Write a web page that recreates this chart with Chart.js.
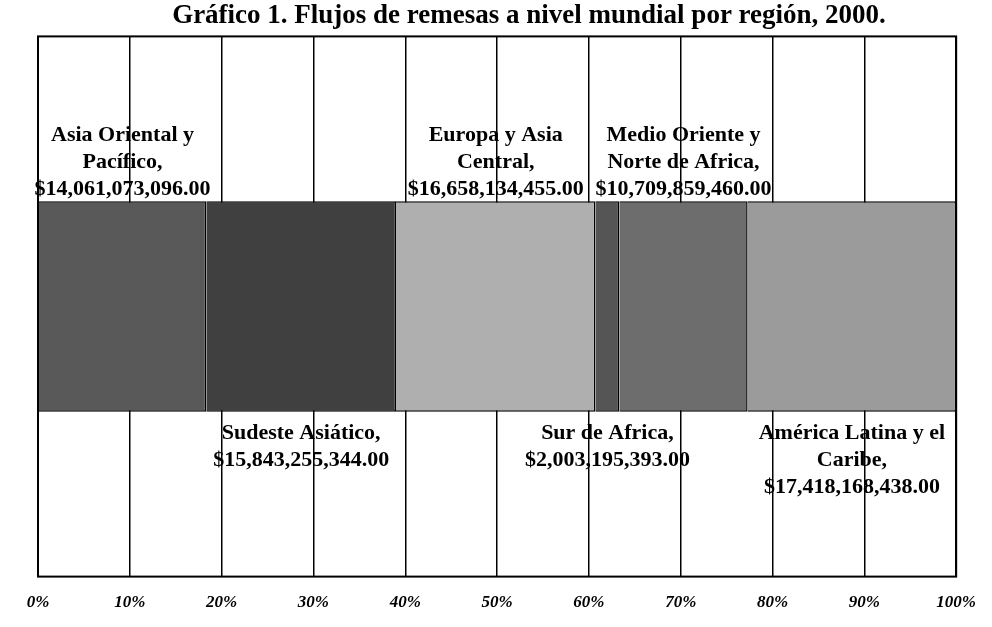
<!DOCTYPE html>
<html>
<head>
<meta charset="utf-8">
<script src="https://cdn.jsdelivr.net/npm/chart.js@4"></script>
<style>
  body { margin: 0; background: #fff; }
  #wrap { width: 992px; height: 627px; }
</style>
</head>
<body>
<div id="wrap"><canvas id="remesas"></canvas></div>
<script>
// datos del grafico
const regiones = [
  ['Asia Oriental y', 'Pacífico,'],
  ['Sudeste Asiático,'],
  ['Europa y Asia', 'Central,'],
  ['Sur de Africa,'],
  ['Medio Oriente y', 'Norte de Africa,'],
  ['América Latina y el', 'Caribe,']
];
const montos = [14061073096, 15843255344, 16658134455, 2003195393, 10709859460, 17418168438];
const posiciones = ['arriba', 'abajo', 'arriba', 'abajo', 'arriba', 'abajo'];
const colores = ['#595959', '#404040', '#afafaf', '#555555', '#6d6d6d', '#9b9b9b'];
const marcas = [0, 10, 20, 30, 40, 50, 60, 70, 80, 90, 100];

const total = montos.reduce((a, b) => a + b, 0);
const fuente = '"Liberation Serif", "Times New Roman", serif';

function dinero(v) {
  return '$' + v.toLocaleString('en-US', { minimumFractionDigits: 2, maximumFractionDigits: 2 });
}

// etiquetas arriba / abajo de cada segmento
const etiquetas = {
  id: 'etiquetas',
  afterDatasetsDraw(chart) {
    const ctx = chart.ctx;
    ctx.save();
    ctx.font = 'bold 22px ' + fuente;
    ctx.fillStyle = '#000';
    ctx.textAlign = 'center';
    const alto = 27;
    chart.data.datasets.forEach((ds, i) => {
      const bar = chart.getDatasetMeta(i).data[0];
      const cx = (bar.x + bar.base) / 2;
      const lineas = regiones[i].concat([dinero(montos[i])]);
      const top = bar.y - bar.height / 2;
      const bottom = bar.y + bar.height / 2;
      if (posiciones[i] === 'arriba') {
        ctx.textBaseline = 'alphabetic';
        lineas.slice().reverse().forEach((t, k) => {
          ctx.fillText(t, cx, top - 6 - k * alto);
        });
      } else {
        ctx.textBaseline = 'top';
        lineas.forEach((t, k) => {
          ctx.fillText(t, cx, bottom + 10 + k * alto);
        });
      }
    });
    ctx.restore();
  }
};

// marco del area de trazado
const marco = {
  id: 'marco',
  afterDraw(chart) {
    const a = chart.chartArea;
    const ctx = chart.ctx;
    ctx.save();
    ctx.strokeStyle = '#000';
    ctx.lineWidth = 2;
    ctx.strokeRect(a.left, a.top, a.right - a.left, a.bottom - a.top);
    ctx.restore();
  }
};

new Chart(document.getElementById('remesas'), {
  type: 'bar',
  data: {
    labels: ['2000'],
    datasets: montos.map((m, i) => ({
      label: regiones[i].join(' '),
      data: [m / total * 100],
      backgroundColor: colores[i],
      borderColor: '#000',
      borderWidth: 1.5,
      barPercentage: 0.39,
      categoryPercentage: 1
    }))
  },
  options: {
    indexAxis: 'y',
    responsive: true,
    maintainAspectRatio: false,
    animation: false,
    layout: { padding: { left: 38, right: -28, top: 0, bottom: -2 } },
    plugins: {
      legend: { display: false },
      tooltip: { enabled: false },
      title: {
        display: true,
        text: 'Gráfico 1. Flujos de remesas a nivel mundial por región, 2000.',
        color: '#000',
        font: { family: fuente, size: 27, weight: 'bold' },
        padding: { top: 0, bottom: 4 }
      }
    },
    scales: {
      x: {
        stacked: true,
        min: 0,
        max: 100,
        afterBuildTicks(axis) { axis.ticks = marcas.map(v => ({ value: v })); },
        grid: { color: '#000', lineWidth: 1.5, drawTicks: false },
        border: { display: false },
        ticks: {
          color: '#000',
          padding: 16,
          maxRotation: 0,
          font: { family: fuente, size: 17, weight: 'bold', style: 'italic' },
          callback: v => v + '%'
        }
      },
      y: {
        stacked: true,
        display: false
      }
    }
  },
  plugins: [etiquetas, marco]
});
</script>
</body>
</html>
